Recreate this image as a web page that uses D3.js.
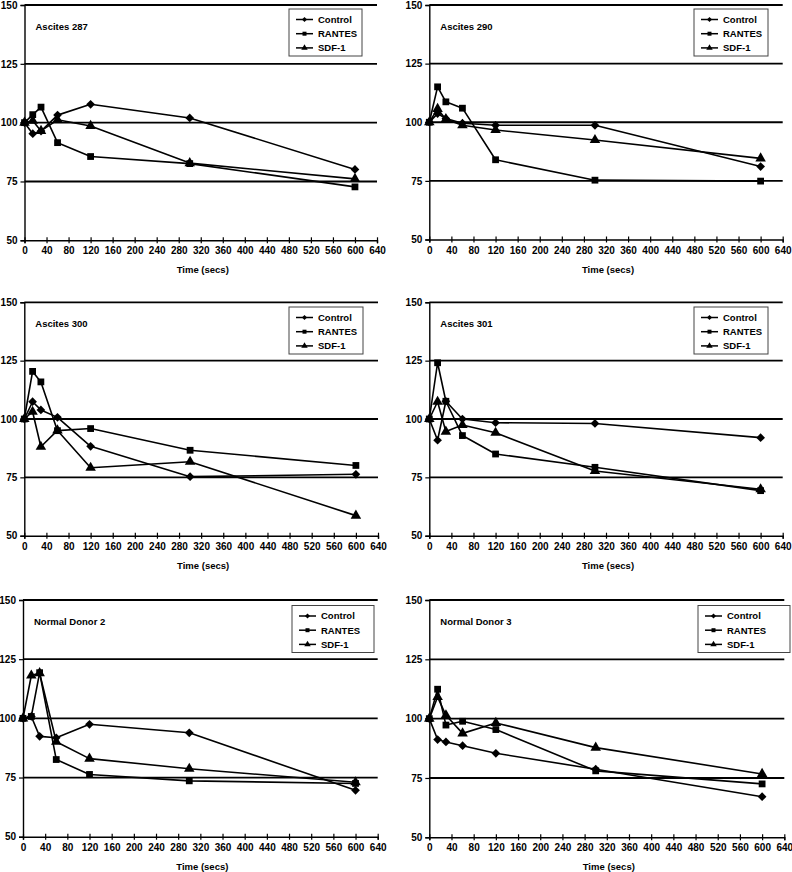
<!DOCTYPE html>
<html>
<head>
<meta charset="utf-8">
<script src="https://cdn.jsdelivr.net/npm/d3@7"></script>
<style>
  html, body { margin: 0; padding: 0; background: #fff; }
  svg { display: block; }
  text { font-family: "Liberation Sans", Arial, sans-serif; font-weight: bold; fill: #000; }
</style>
</head>
<body>
<svg id="chart" width="792" height="872"></svg>
<script>
// ---- Data ----
const times = [0, 15, 30, 60, 120, 300, 600];
const seriesNames = ["Control", "RANTES", "SDF-1"];
const panelTitles = ["Ascites 287", "Ascites 290", "Ascites 300", "Ascites 301", "Normal Donor 2", "Normal Donor 3"];
const xTicks = [0, 40, 80, 120, 160, 200, 240, 280, 320, 360, 400, 440, 480, 520, 560, 600, 640];
const yTicks = [50, 75, 100, 125, 150];
const xLabel = "Time (secs)";

const ascites287Control = [100, 95.3, 96.4, 103.2, 107.8, 102.0, 80.1];
const ascites287Rantes  = [100, 103.4, 106.6, 91.5, 85.6, 82.6, 72.7];
const ascites287Sdf1    = [100, 100.8, 96.5, 101.2, 98.6, 82.8, 76.1];

const ascites290Control = [100, 103.7, 101.6, 99.6, 98.7, 98.7, 81.1];
const ascites290Rantes  = [100, 115.1, 108.7, 106.0, 84.0, 75.3, 74.9];
const ascites290Sdf1    = [100, 105.7, 101.3, 98.7, 96.7, 92.4, 84.6];

const ascites300Control = [100, 107.4, 103.9, 100.7, 88.3, 75.3, 76.3];
const ascites300Rantes  = [100, 120.4, 115.9, 95.0, 95.9, 86.6, 80.1];
const ascites300Sdf1    = [100, 103.1, 88.1, 95.1, 79.1, 81.7, 58.6];

const ascites301Control = [100, 90.9, 107.6, 100.0, 98.4, 98.1, 92.0];
const ascites301Rantes  = [100, 124.1, 107.6, 92.9, 85.0, 79.3, 69.3];
const ascites301Sdf1    = [100, 107.4, 94.6, 97.4, 94.1, 77.7, 69.9];

const donor2Control = [100, 100.8, 92.4, 91.8, 97.5, 93.9, 69.6];
const donor2Rantes  = [100, 100.8, 119.3, 82.6, 76.3, 73.6, 72.5];
const donor2Sdf1    = [100, 118.1, 119.1, 90.1, 83.0, 78.7, 73.0];

const donor3Control = [100, 91.2, 90.2, 88.6, 85.4, 78.7, 67.1];
const donor3Rantes  = [100, 112.4, 97.3, 98.9, 95.4, 78.0, 72.5];
const donor3Sdf1    = [100, 109.1, 101.4, 93.8, 98.2, 87.8, 76.7];

const panelData = [
  [ascites287Control, ascites287Rantes, ascites287Sdf1],
  [ascites290Control, ascites290Rantes, ascites290Sdf1],
  [ascites300Control, ascites300Rantes, ascites300Sdf1],
  [ascites301Control, ascites301Rantes, ascites301Sdf1],
  [donor2Control, donor2Rantes, donor2Sdf1],
  [donor3Control, donor3Rantes, donor3Sdf1]
];

// ---- Layout (pixels) ----
const panelBoxes = [
  {x0: 24.5, x1: 377,   yT: 5,     yB: 240.3, lg: [289, 9, 73, 47]},
  {x0: 429.3, x1: 782.7, yT: 5,    yB: 239.5, lg: [694, 9, 74, 47]},
  {x0: 24.3, x1: 378,   yT: 302.3, yB: 535.7, lg: [289, 307, 74, 47]},
  {x0: 429.3, x1: 782.7, yT: 302.3, yB: 535.7, lg: [694, 307, 74, 47]},
  {x0: 23,   x1: 377.7, yT: 600,   yB: 836.7, lg: [292, 605.5, 82, 47]},
  {x0: 429.3, x1: 784.3, yT: 600,  yB: 837.3, lg: [698, 605.5, 92, 47]}
];

const svg = d3.select("#chart");
svg.append("rect").attr("width", 792).attr("height", 872).attr("fill", "#fff");

// diamond drawn as rotated square
const symbolTypes = [d3.symbolSquare, d3.symbolSquare, d3.symbolTriangle];
const symbolRot = [45, 0, 0];
const symbolSizes = [38, 46, 48];
const legendSizes = [13, 16, 18];

panelBoxes.forEach((b, pi) => {
  const g = svg.append("g");
  const x = d3.scaleLinear().domain([0, 640]).range([b.x0, b.x1]);
  const y = d3.scaleLinear().domain([50, 150]).range([b.yB, b.yT]);

  // gridlines (75, 100, 125, 150)
  g.selectAll("line.grid").data(yTicks.filter(v => v > 50)).enter().append("line")
    .attr("x1", b.x0).attr("x2", b.x1)
    .attr("y1", d => y(d)).attr("y2", d => y(d))
    .attr("stroke", "#000").attr("stroke-width", 1.8);

  // y axis
  const yAxis = d3.axisLeft(y).tickValues(yTicks).tickSize(4).tickPadding(3).tickFormat(d3.format("d"));
  const ya = g.append("g").attr("transform", `translate(${b.x0},0)`).call(yAxis);
  ya.select(".domain").attr("stroke", "#000").attr("stroke-width", 1.4);
  ya.selectAll(".tick line").attr("stroke", "#000").attr("stroke-width", 1.2);
  ya.selectAll("text").attr("font-size", 10).attr("font-family", "Liberation Sans, Arial, sans-serif").attr("font-weight", "bold");

  // x axis
  const xAxis = d3.axisBottom(x).tickValues(xTicks).tickSize(3).tickPadding(4).tickFormat(d3.format("d"));
  const xa = g.append("g").attr("transform", `translate(0,${b.yB})`).call(xAxis);
  xa.select(".domain").attr("stroke", "#000").attr("stroke-width", 1.4);
  xa.selectAll(".tick line").attr("stroke", "#000").attr("stroke-width", 1.2).attr("y1", -3).attr("y2", 3);
  xa.selectAll("text").attr("font-size", 10).attr("font-family", "Liberation Sans, Arial, sans-serif").attr("font-weight", "bold");

  // x label
  g.append("text").attr("x", (b.x0 + b.x1) / 2 + 2).attr("y", b.yB + 33)
    .attr("text-anchor", "middle").attr("font-size", 9.5).text(xLabel);

  // title
  g.append("text").attr("x", b.x0 + 11).attr("y", b.yT + 25)
    .attr("font-size", 9.5).text(panelTitles[pi]);

  // series
  const line = d3.line().x((d, i) => x(times[i])).y(d => y(d));
  panelData[pi].forEach((vals, si) => {
    g.append("path").datum(vals).attr("d", line)
      .attr("fill", "none").attr("stroke", "#000").attr("stroke-width", 1.6)
      .attr("stroke-linejoin", "round");
    g.selectAll(null).data(vals).enter().append("path")
      .attr("transform", (d, i) => `translate(${x(times[i])},${y(d)}) rotate(${symbolRot[si]})`)
      .attr("d", d3.symbol().type(symbolTypes[si]).size(symbolSizes[si]))
      .attr("fill", "#000");
  });

  // legend
  const [lx, ly, lw, lh] = b.lg;
  const lgG = g.append("g");
  lgG.append("rect").attr("x", lx).attr("y", ly).attr("width", lw).attr("height", lh)
    .attr("fill", "#fff").attr("stroke", "#444").attr("stroke-width", 1);
  seriesNames.forEach((name, si) => {
    const cy = ly + 10.5 + si * 14.2;
    lgG.append("line").attr("x1", lx + 7).attr("x2", lx + 24).attr("y1", cy).attr("y2", cy)
      .attr("stroke", "#000").attr("stroke-width", 1.5);
    lgG.append("path").attr("transform", `translate(${lx + 15.5},${cy}) rotate(${symbolRot[si]})`)
      .attr("d", d3.symbol().type(symbolTypes[si]).size(legendSizes[si])).attr("fill", "#000");
    lgG.append("text").attr("x", lx + 29).attr("y", cy + 3.4).attr("font-size", 9.5).text(name);
  });
});
</script>
</body>
</html>
